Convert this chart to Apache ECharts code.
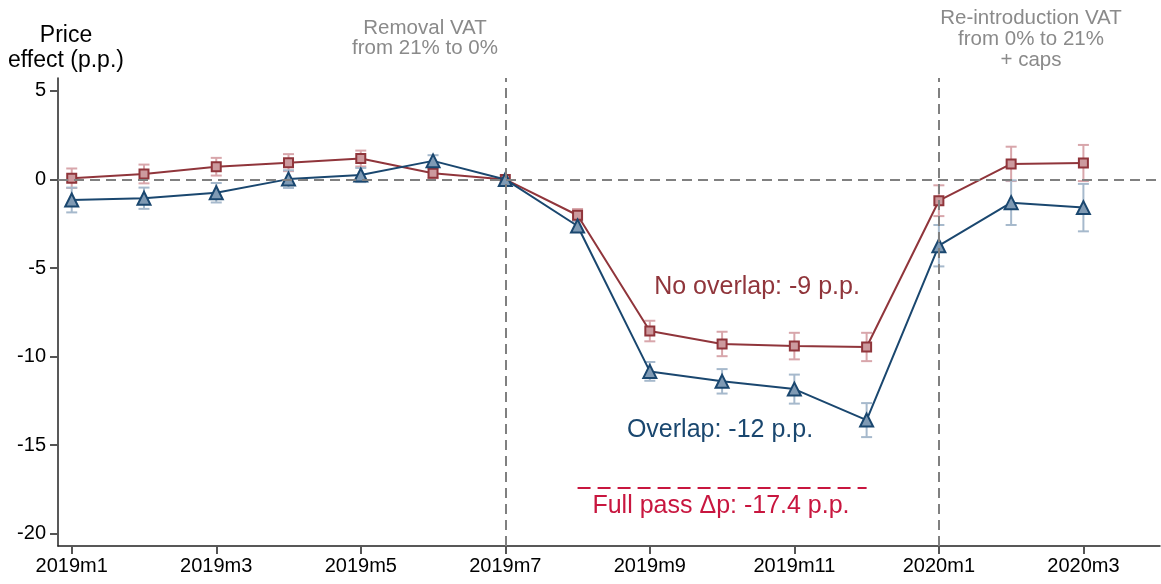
<!DOCTYPE html>
<html>
<head>
<meta charset="utf-8">
<script src="https://cdn.jsdelivr.net/npm/echarts@6/dist/echarts.min.js"></script>
<style>
  html, body { margin: 0; padding: 0; background: #fff; }
  #main { width: 1161px; height: 584px; }
</style>
</head>
<body>
<div id="main"></div>
<script>
// months, index 0 = 2019m1
var months = ['2019m1','2019m2','2019m3','2019m4','2019m5','2019m6','2019m7','2019m8',
	'2019m9','2019m10','2019m11','2019m12','2020m1','2020m2','2020m3'];
var tickIdx = [0, 2, 4, 6, 8, 10, 12, 14];
var yTicks = [-20, -15, -10, -5, 0, 5];

// No overlap (maroon squares)
var noOverlap    = [0.07, 0.31, 0.72, 0.95, 1.18, 0.35, 0, -2.02, -8.56, -9.29, -9.41, -9.46, -1.20, 0.88, 0.93];
var noOverlapErr = [0.55, 0.53, 0.50, 0.48, 0.45, 0.28, 0, 0.35, 0.58, 0.69, 0.75, 0.80, 0.87, 0.97, 1.02];
// Overlap (navy triangles)
var overlap    = [-1.16, -1.06, -0.75, 0.02, 0.25, 1.05, 0, -2.63, -10.84, -11.40, -11.84, -13.59, -3.74, -1.31, -1.59];
var overlapErr = [0.70, 0.60, 0.55, 0.50, 0.40, 0.32, 0, 0.30, 0.53, 0.69, 0.82, 0.96, 1.17, 1.26, 1.34];

var fullPass = -17.4;
var fullPassFrom = 7, fullPassTo = 11;
var eventIdx = [6, 12];

var MAROON = '#90353b', NAVY = '#1a476f', CRIMSON = '#c8163f', GREY = '#808080';
var FONT = 'Liberation Sans, Arial, sans-serif';

function errData(vals, errs) {
	var out = [];
	for (var i = 0; i < vals.length; i++) {
		if (errs[i] > 0) out.push([i, vals[i] - errs[i], vals[i] + errs[i]]);
	}
	return out;
}
function pts(vals) {
	return vals.map(function (v, i) { return [i, v]; });
}
function errSeries(data, color) {
	return {
		type: 'custom',
		data: data,
		silent: true,
		z: 2,
		renderItem: function (params, api) {
			var lo = api.coord([api.value(0), api.value(1)]);
			var hi = api.coord([api.value(0), api.value(2)]);
			var w = 5.5;
			var st = { stroke: color, lineWidth: 2 };
			return {
				type: 'group',
				children: [
					{ type: 'line', shape: { x1: lo[0], y1: lo[1], x2: hi[0], y2: hi[1] }, style: st },
					{ type: 'line', shape: { x1: lo[0] - w, y1: lo[1], x2: lo[0] + w, y2: lo[1] }, style: st },
					{ type: 'line', shape: { x1: hi[0] - w, y1: hi[1], x2: hi[0] + w, y2: hi[1] }, style: st }
				]
			};
		}
	};
}

var myChart = echarts.init(document.getElementById('main'));
var option = {
	animation: false,
	backgroundColor: '#fff',
	textStyle: { fontFamily: FONT },
	grid: { left: 58, right: 1, top: 78, bottom: 38, containLabel: false, outerBoundsMode: 'none' },
	xAxis: {
		type: 'value',
		min: -0.19,
		max: 15.06,
		splitLine: { show: false },
		axisLine: { onZero: false, lineStyle: { color: '#222', width: 1.5 } },
		axisTick: { customValues: tickIdx, length: 8, lineStyle: { color: '#555', width: 2 } },
		axisLabel: {
			customValues: tickIdx,
			color: '#000', fontSize: 20, margin: 10, fontFamily: FONT,
			formatter: function (v) { return months[Math.round(v)]; }
		}
	},
	yAxis: {
		type: 'value',
		min: -20.7,
		max: 5.73,
		splitLine: { show: false },
		axisLine: { show: true, onZero: false, lineStyle: { color: '#222', width: 1.5 } },
		axisTick: { show: true, customValues: yTicks, length: 8, lineStyle: { color: '#555', width: 2 } },
		axisLabel: {
			customValues: yTicks,
			color: '#000', fontSize: 20, margin: 12, fontFamily: FONT,
			formatter: function (v) { return String(Math.round(v)); }
		}
	},
	series: [
		errSeries(errData(noOverlap, noOverlapErr), '#d8a6ab'),
		errSeries(errData(overlap, overlapErr), '#a6b9cc'),
		{
			name: 'No overlap',
			type: 'line',
			data: pts(noOverlap),
			z: 3,
			symbol: 'rect',
			symbolSize: 9,
			lineStyle: { color: MAROON, width: 2 },
			itemStyle: { color: '#cc9a9e', borderColor: MAROON, borderWidth: 2 },
			markLine: {
				silent: true,
				symbol: 'none',
				label: { show: false },
				lineStyle: { color: GREY, width: 2, type: [10, 6] },
				data: [
					{ yAxis: 0 },
					{ xAxis: eventIdx[0] },
					{ xAxis: eventIdx[1] },
					[
						{ coord: [fullPassFrom, fullPass], lineStyle: { color: CRIMSON, width: 2, type: [13, 7] } },
						{ coord: [fullPassTo, fullPass] }
					]
				]
			}
		},
		{
			name: 'Overlap',
			type: 'line',
			data: pts(overlap),
			z: 4,
			symbol: 'triangle',
			symbolSize: 13,
			lineStyle: { color: NAVY, width: 2 },
			itemStyle: { color: '#7f9ab4', borderColor: NAVY, borderWidth: 2 }
		}
	],
	graphic: [
		{ type: 'text', x: 66, y: 48, style: { text: 'Price\neffect (p.p.)', textAlign: 'center', textVerticalAlign: 'middle', font: '23px ' + FONT, lineHeight: 25, fill: '#000' } },
		{ type: 'text', x: 425, y: 38, style: { text: 'Removal VAT\nfrom 21% to 0%', textAlign: 'center', textVerticalAlign: 'middle', font: '20.5px ' + FONT, lineHeight: 20, fill: '#8a8a8a' } },
		{ type: 'text', x: 1031, y: 39, style: { text: 'Re-introduction VAT\nfrom 0% to 21%\n+ caps', textAlign: 'center', textVerticalAlign: 'middle', font: '20.5px ' + FONT, lineHeight: 21, fill: '#8a8a8a' } },
		{ type: 'text', x: 757, y: 287, style: { text: 'No overlap: -9 p.p.', textAlign: 'center', textVerticalAlign: 'middle', font: '25px ' + FONT, fill: MAROON } },
		{ type: 'text', x: 720, y: 430, style: { text: 'Overlap: -12 p.p.', textAlign: 'center', textVerticalAlign: 'middle', font: '25px ' + FONT, fill: NAVY } },
		{ type: 'text', x: 721, y: 506, style: { text: 'Full pass \u0394p: -17.4 p.p.', textAlign: 'center', textVerticalAlign: 'middle', font: '25px ' + FONT, fill: CRIMSON } }
	]
};
myChart.setOption(option);
</script>
</body>
</html>
